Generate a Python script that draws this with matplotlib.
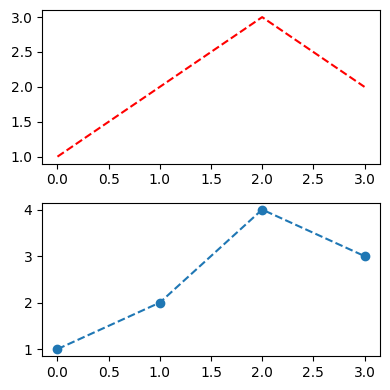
import matplotlib
matplotlib.use('Agg')
import matplotlib.pyplot as plt

x = [0, 1, 2, 3]
top_y = [1, 2, 3, 2]
bottom_y = [1, 2, 4, 3]

fig, (ax1, ax2) = plt.subplots(2, 1, figsize=(3.9, 3.9), dpi=100)
ax1.plot(x, top_y, 'r--')
ax2.plot(x, bottom_y, 'o--')
fig.subplots_adjust(left=0.108, right=0.974, top=0.974, bottom=0.087, hspace=0.254)
plt.savefig('out.png')
